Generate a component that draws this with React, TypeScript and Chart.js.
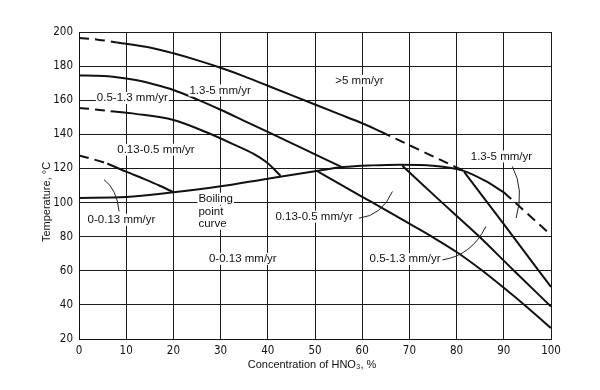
import React, { useEffect, useRef } from "react";
import { Chart, registerables } from "chart.js";

Chart.register(...registerables);

// ---- tick labels ----
const xTickValues = [0, 10, 20, 30, 40, 50, 60, 70, 80, 90, 100];
const yTickValues = [20, 40, 60, 80, 100, 120, 140, 160, 180, 200];

// ---- boundary curves (x = % HNO3, y = temperature °C) ----
// top boundary (1.3-5 / >5 mm/yr)
const aDashStartX = [0, 4, 8];
const aDashStartY = [196.5, 195.5, 193.9];
const aSolidX = [8, 15, 20, 25, 30, 35, 40, 45, 50, 55, 60, 64];
const aSolidY = [193.9, 190.9, 187.5, 183.5, 179, 174, 168.5, 163, 157.5, 152, 146.5, 141.5];
const aDashEndX = [64, 72, 81.5];
const aDashEndY = [141.5, 131, 118.6];

// 0.5-1.3 / 1.3-5 boundary
const bX = [0, 4, 8, 12, 16, 20, 25, 30, 35, 40, 45, 50, 55.7];
const bY = [174.5, 174.3, 173.5, 171.8, 169.2, 166, 160.5, 154.4, 147.9, 141.4, 134.9, 128.2, 120.8];

// 0.13-0.5 / 0.5-1.3 boundary
const cDashX = [0, 3.5, 6.7];
const cDashY = [155.4, 154.6, 153.5];
const cSolidX = [6.7, 12, 20, 27, 33, 37, 40, 42.7];
const cSolidY = [153.5, 152, 148.4, 141.2, 133.8, 128.5, 123, 115.7];

// 0-0.13 / 0.13-0.5 boundary
const dDashX = [0, 3, 6];
const dDashY = [127.6, 125.4, 122.9];
const dSolidX = [6, 10, 14, 17, 20];
const dSolidY = [122.9, 118.1, 113.6, 110, 106];

// boiling point curve
const boilX = [0, 10, 20, 30, 40, 50, 56, 62, 68, 75, 81.5, 86, 90];
const boilY = [102.7, 103.2, 106, 109.5, 114, 118.4, 120.8, 121.8, 122.2, 121.6, 118.6, 112.8, 106];
const boilDashX = [90, 95, 100];
const boilDashY = [106, 93.5, 81];

// lines below the boiling point curve
const l1X = [50.4, 55, 60, 65, 70, 75, 80, 85, 90, 95, 100];
const l1Y = [118.6, 111.2, 103.4, 95.6, 87.6, 79.6, 71.0, 61, 50, 38.5, 26.4];
const l2X = [68.5, 76, 84.4, 92, 100];
const l2Y = [121.6, 102.3, 81.1, 60.5, 39];
const l3X = [81.6, 90, 100];
const l3Y = [118, 87.3, 50.5];

// ---- annotation texts ----
const labelTexts = [
  "1.3-5 mm/yr",
  "0.5-1.3 mm/yr",
  "0.13-0.5 mm/yr",
  "0-0.13 mm/yr",
  "Boiling",
  "point",
  "curve",
  "0-0.13 mm/yr",
  "0.13-0.5 mm/yr",
  "0.5-1.3 mm/yr",
  "1.3-5 mm/yr",
  ">5 mm/yr",
];
const xTitle = "Concentration of HNO\u2083, %";
const yTitle = "Temperature, \u00B0C";

// placement of annotations (data coordinates)
const labelPlacement = [
  { x: 29.9, y: 165.7, align: "center" },
  { x: 11.3, y: 161.3, align: "center" },
  { x: 16.3, y: 131, align: "center" },
  { x: 9.0, y: 89.9, align: "center" },
  { x: 25.3, y: 102.2, align: "left" },
  { x: 25.3, y: 94.6, align: "left" },
  { x: 25.3, y: 87.6, align: "left" },
  { x: 34.7, y: 67, align: "center" },
  { x: 58.0, y: 91.7, align: "right" },
  { x: 76.6, y: 66.9, align: "right" },
  { x: 89.5, y: 127, align: "center" },
  { x: 59.4, y: 171.4, align: "center" },
];
const leaders = [
  { from: [5.3, 113.4], ctrl: [8.0, 108], to: [8.5, 94.8] },
  { from: [59.3, 90.8], ctrl: [64.2, 92.4], to: [66.4, 106.5] },
  { from: [77.0, 66.4], ctrl: [83.2, 69.0], to: [86.2, 86.0] },
  { from: [91.8, 121.2], ctrl: [94.4, 107.5], to: [92.6, 90.9] },
];

const tickFont = { family: '"Liberation Sans Narrow", "DejaVu Sans Condensed", "Liberation Sans", sans-serif', size: 11.5 };
const labelFontCss = '11.5px "Liberation Sans", Arial, sans-serif';
const titleFontCss = '11px "Liberation Sans", Arial, sans-serif';

const pts = (xs: number[], ys: number[]) => xs.map((x, i) => ({ x, y: ys[i] }));

const curve = (xs: number[], ys: number[], dashed: boolean) => ({
  data: pts(xs, ys),
  borderColor: "#111",
  borderWidth: 2,
  borderDash: dashed ? [10, 6] : [],
  pointRadius: 0,
  fill: false,
  cubicInterpolationMode: "monotone" as const,
});

const annotationPlugin = {
  id: "annotations",
  afterDraw(chart: any) {
    const { ctx, scales } = chart;
    const xs = scales.x;
    const ys = scales.y;
    const px = (v: number) => xs.getPixelForValue(v);
    const py = (v: number) => ys.getPixelForValue(v);
    ctx.save();
    // leader lines
    ctx.strokeStyle = "#222";
    ctx.lineWidth = 1;
    leaders.forEach((l) => {
      ctx.beginPath();
      ctx.moveTo(px(l.from[0]), py(l.from[1]));
      ctx.quadraticCurveTo(px(l.ctrl[0]), py(l.ctrl[1]), px(l.to[0]), py(l.to[1]));
      ctx.stroke();
    });
    // labels with white background
    ctx.font = labelFontCss;
    ctx.textBaseline = "middle";
    labelTexts.forEach((t, i) => {
      const p = labelPlacement[i];
      const w = ctx.measureText(t).width;
      let x0 = px(p.x);
      if (p.align === "center") x0 -= w / 2;
      else if (p.align === "right") x0 -= w;
      const yc = py(p.y);
      ctx.fillStyle = "#fff";
      ctx.fillRect(x0 - 1, yc - 6, w + 2, 12);
      ctx.fillStyle = "#111";
      ctx.textAlign = "left";
      ctx.fillText(t, x0, yc);
    });
    // axis titles
    ctx.font = titleFontCss;
    ctx.fillStyle = "#111";
    ctx.textAlign = "center";
    ctx.fillText(xTitle, 312, 365);
    ctx.translate(47, 202);
    ctx.rotate(-Math.PI / 2);
    ctx.fillText(yTitle, 0, 0);
    ctx.restore();
  },
};

export default function App() {
  const canvasRef = useRef<HTMLCanvasElement | null>(null);

  useEffect(() => {
    if (!canvasRef.current) return;
    const chart = new Chart(canvasRef.current, {
      type: "line",
      data: {
        datasets: [
          curve(aDashStartX, aDashStartY, true),
          curve(aSolidX, aSolidY, false),
          curve(aDashEndX, aDashEndY, true),
          curve(bX, bY, false),
          curve(cDashX, cDashY, true),
          curve(cSolidX, cSolidY, false),
          curve(dDashX, dDashY, true),
          curve(dSolidX, dSolidY, false),
          curve(boilX, boilY, false),
          curve(boilDashX, boilDashY, true),
          curve(l1X, l1Y, false),
          curve(l2X, l2Y, false),
          curve(l3X, l3Y, false),
        ] as any,
      },
      options: {
        animation: false,
        responsive: false,
        devicePixelRatio: 1,
        layout: { padding: { top: 32, right: 49, left: 0, bottom: 0 } },
        plugins: { legend: { display: false }, tooltip: { enabled: false } },
        scales: {
          x: {
            type: "linear",
            min: 0,
            max: 100,
            afterBuildTicks: (s: any) => {
              s.ticks = xTickValues.map((v) => ({ value: v }));
            },
            afterFit: (s: any) => {
              s.height = 51;
            },
            grid: { color: "#1a1a1a", lineWidth: 1, drawTicks: false },
            border: { color: "#111", width: 1 },
            ticks: { color: "#111", font: tickFont, padding: 5, maxRotation: 0, autoSkip: false },
          },
          y: {
            type: "linear",
            min: 20,
            max: 200,
            afterBuildTicks: (s: any) => {
              s.ticks = yTickValues.map((v) => ({ value: v }));
            },
            afterFit: (s: any) => {
              s.width = 79;
            },
            grid: { color: "#1a1a1a", lineWidth: 1, drawTicks: false },
            border: { color: "#111", width: 1 },
            ticks: { color: "#111", font: tickFont, padding: 6, autoSkip: false },
          },
        },
      } as any,
      plugins: [annotationPlugin],
    });
    return () => chart.destroy();
  }, []);

  return (
    <div style={{ position: "fixed", left: 0, top: 0, width: 600, height: 390, background: "#fff" }}>
      <canvas ref={canvasRef} width={600} height={390} style={{ display: "block" }} />
    </div>
  );
}
